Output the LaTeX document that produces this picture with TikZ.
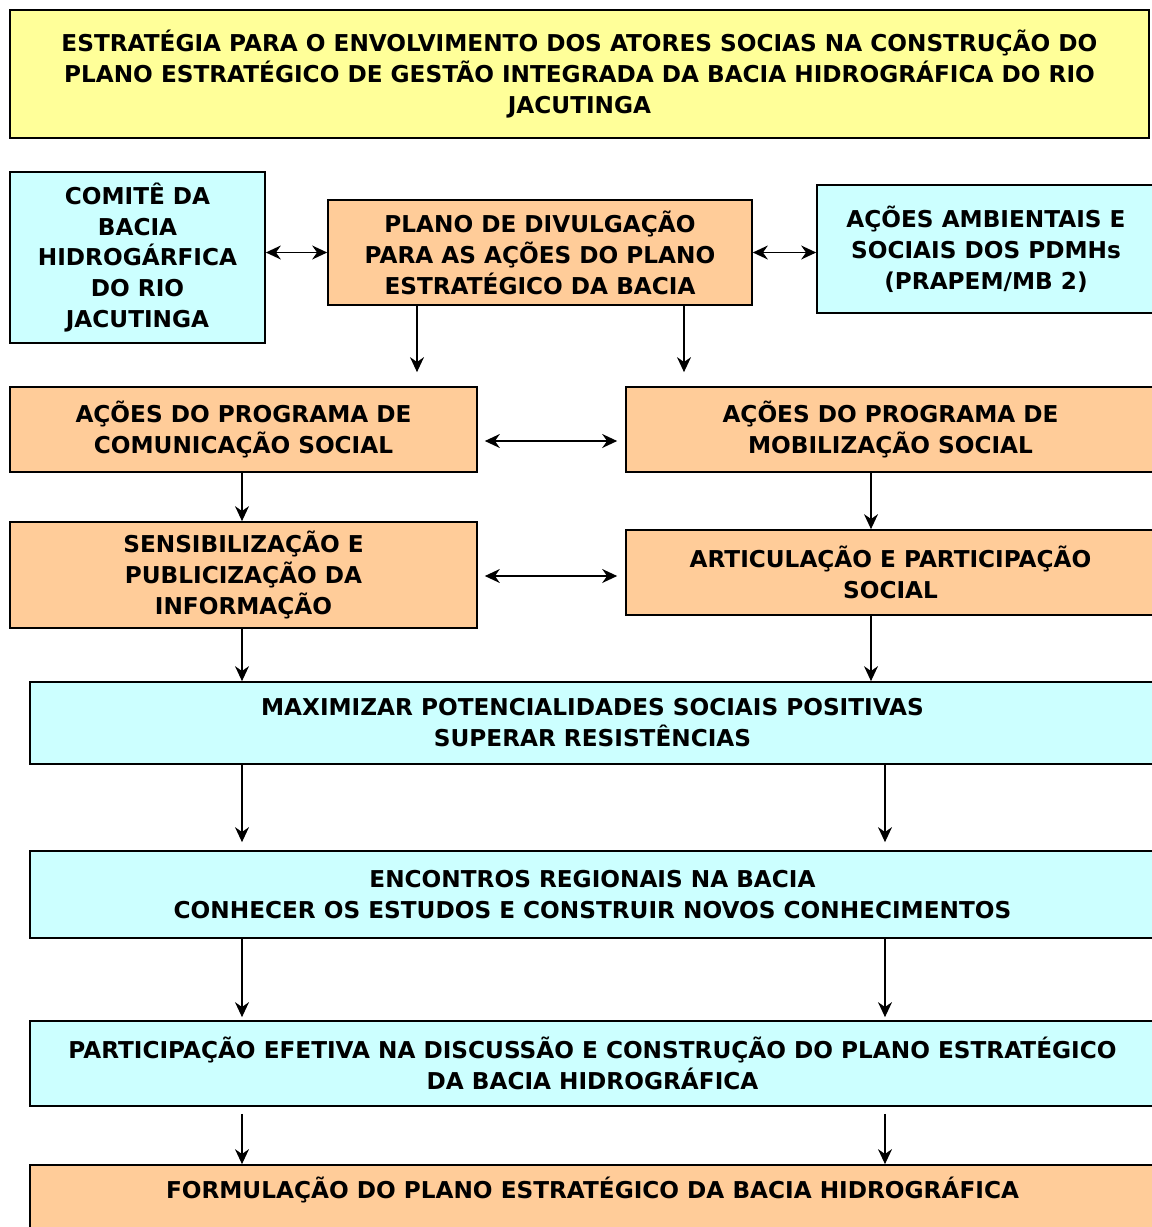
\documentclass[tikz,border=0pt]{standalone}
\usepackage{fontspec}
\setmainfont{DejaVu Sans}
\usetikzlibrary{arrows.meta}
\definecolor{amarelo}{HTML}{FFFF99}
\definecolor{ciano}{HTML}{CCFFFF}
\definecolor{laranja}{HTML}{FFCC99}
\begin{document}
\begin{tikzpicture}[x=0.02cm,y=-0.02cm,
  caixa/.style={draw, line width=1pt, align=center, inner sep=0pt,
    font=\fontsize{13.2}{17.6}\selectfont\bfseries},
  seta/.style={-{Stealth[length=3mm,width=2.8mm]}, line width=0.8pt},
  dupla/.style={{Stealth[length=3mm,width=2.8mm]}-{Stealth[length=3mm,width=2.8mm]}, line width=0.8pt}]
\useasboundingbox (0,0) rectangle (1152,1227);
\clip (0,0) rectangle (1152,1227);
\fill[white] (0,0) rectangle (1152,1227);
% titulo
\node[caixa, fill=amarelo, minimum width=22.78cm, minimum height=2.56cm] (titulo) at (579.5,74) {ESTRATÉGIA PARA O ENVOLVIMENTO DOS ATORES SOCIAS NA CONSTRUÇÃO DO\\PLANO ESTRATÉGICO DE GESTÃO INTEGRADA DA BACIA HIDROGRÁFICA DO RIO\\JACUTINGA};
% primeira linha
\node[caixa, fill=ciano, minimum width=5.1cm, minimum height=3.42cm] (comite) at (137.5,257.5) {COMITÊ DA\\BACIA\\HIDROGÁRFICA\\DO RIO\\JACUTINGA};
\node[caixa, fill=laranja, minimum width=8.48cm, minimum height=2.1cm] (plano) at (540,252.5) {PLANO DE DIVULGAÇÃO\\PARA AS AÇÕES DO PLANO\\ESTRATÉGICO DA BACIA};
\node[caixa, fill=ciano, minimum width=6.76cm, minimum height=2.56cm] (acoes) at (986,249) {AÇÕES AMBIENTAIS E\\SOCIAIS DOS PDMHs\\(PRAPEM/MB 2)};
% programas
\node[caixa, fill=laranja, minimum width=9.34cm, minimum height=1.7cm] (comunic) at (243.5,429.5) {AÇÕES DO PROGRAMA DE\\COMUNICAÇÃO SOCIAL};
\node[caixa, fill=laranja, minimum width=10.58cm, minimum height=1.7cm] (mobiliz) at (890.5,429.5) {AÇÕES DO PROGRAMA DE\\MOBILIZAÇÃO SOCIAL};
\node[caixa, fill=laranja, minimum width=9.34cm, minimum height=2.12cm] (sensib) at (243.5,575) {SENSIBILIZAÇÃO E\\PUBLICIZAÇÃO DA\\INFORMAÇÃO};
\node[caixa, fill=laranja, minimum width=10.58cm, minimum height=1.7cm] (artic) at (890.5,572.5) {ARTICULAÇÃO E PARTICIPAÇÃO\\SOCIAL};
% faixas largas
\node[caixa, fill=ciano, minimum width=22.5cm, minimum height=1.64cm] (maxim) at (592.5,723) {MAXIMIZAR POTENCIALIDADES SOCIAIS POSITIVAS\\SUPERAR RESISTÊNCIAS};
\node[caixa, fill=ciano, minimum width=22.5cm, minimum height=1.74cm] (encontros) at (592.5,894.5) {ENCONTROS REGIONAIS NA BACIA\\CONHECER OS ESTUDOS E CONSTRUIR NOVOS CONHECIMENTOS};
\node[caixa, fill=ciano, minimum width=22.5cm, minimum height=1.7cm] (partic) at (592.5,1063.5) {PARTICIPAÇÃO EFETIVA NA DISCUSSÃO E CONSTRUÇÃO DO PLANO ESTRATÉGICO\\DA BACIA HIDROGRÁFICA};
\node[caixa, fill=laranja, minimum width=22.5cm, minimum height=1.7cm] (form) at (592.5,1207.5) {FORMULAÇÃO DO PLANO ESTRATÉGICO DA BACIA HIDROGRÁFICA\\\strut};
% colunas das setas
\coordinate (p1) at (417,0);
\coordinate (p2) at (684,0);
\coordinate (esq) at (242,0);
\coordinate (dir) at (871,0);
\coordinate (dir2) at (885,0);
% setas
\draw[dupla] (comite.east |- plano.west) -- (plano.west);
\draw[dupla] (plano.east) -- (plano.east -| acoes.west);
\draw[seta, shorten >=0.28cm] (plano.south -| p1) -- (comunic.north -| p1);
\draw[seta, shorten >=0.28cm] (plano.south -| p2) -- (mobiliz.north -| p2);
\draw[dupla, shorten <=0.14cm, shorten >=0.16cm] (comunic.east |- 0,441) -- (mobiliz.west |- 0,441);
\draw[dupla, shorten <=0.14cm, shorten >=0.16cm] (sensib.east |- 0,576) -- (artic.west |- 0,576);
\draw[seta] (comunic.south -| esq) -- (sensib.north -| esq);
\draw[seta] (mobiliz.south -| dir) -- (artic.north -| dir);
\draw[seta] (sensib.south -| esq) -- (maxim.north -| esq);
\draw[seta] (artic.south -| dir) -- (maxim.north -| dir);
\draw[seta, shorten >=0.16cm] (maxim.south -| esq) -- (encontros.north -| esq);
\draw[seta, shorten >=0.16cm] (maxim.south -| dir2) -- (encontros.north -| dir2);
\draw[seta, shorten >=0.06cm] (encontros.south -| esq) -- (partic.north -| esq);
\draw[seta, shorten >=0.06cm] (encontros.south -| dir2) -- (partic.north -| dir2);
\draw[seta, shorten <=0.14cm] (partic.south -| esq) -- (form.north -| esq);
\draw[seta, shorten <=0.14cm] (partic.south -| dir2) -- (form.north -| dir2);
\end{tikzpicture}
\end{document}
